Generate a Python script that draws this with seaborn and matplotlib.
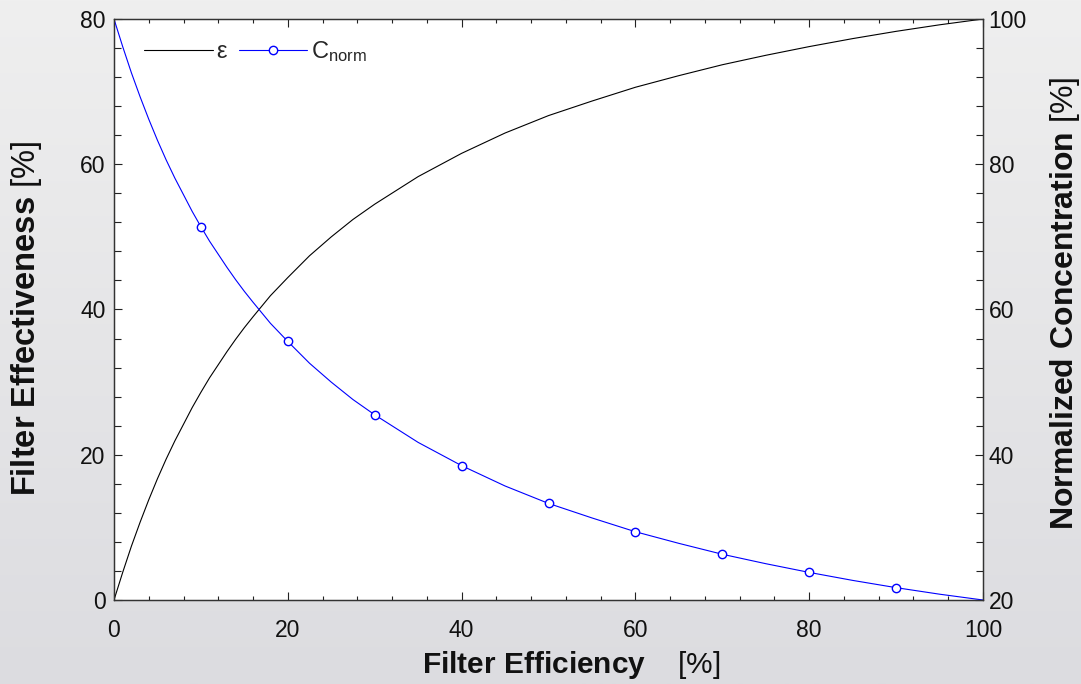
import numpy as np
import pandas as pd
import matplotlib
matplotlib.use("Agg")
import matplotlib.pyplot as plt
import seaborn as sns
from matplotlib.ticker import MultipleLocator
from matplotlib.lines import Line2D
from matplotlib.colors import LinearSegmentedColormap

# ---- data ----
efficiency = [0, 1, 2, 3, 4, 5, 6, 7, 8, 9, 10, 11, 12, 13, 14, 15, 16, 18,
              20, 22.5, 25, 27.5, 30, 35, 40, 45, 50, 55, 60, 65, 70, 75, 80,
              85, 90, 95, 100]
effectiveness = [0, 3.8, 7.4, 10.7, 13.8, 16.7, 19.4, 21.9, 24.2, 26.5, 28.6,
                 30.6, 32.4, 34.2, 35.9, 37.5, 39.0, 41.9, 44.4, 47.4, 50.0,
                 52.4, 54.5, 58.3, 61.5, 64.3, 66.7, 68.7, 70.6, 72.2, 73.7,
                 75.0, 76.2, 77.3, 78.3, 79.2, 80.0]
c_norm = [100, 96.2, 92.6, 89.3, 86.2, 83.3, 80.6, 78.1, 75.8, 73.5, 71.4,
          69.4, 67.6, 65.8, 64.1, 62.5, 61.0, 58.1, 55.6, 52.6, 50.0, 47.6,
          45.5, 41.7, 38.5, 35.7, 33.3, 31.3, 29.4, 27.8, 26.3, 25.0, 23.8,
          22.7, 21.7, 20.8, 20.0]
marker_x = [10, 20, 30, 40, 50, 60, 70, 80, 90]

df = pd.DataFrame({"eff": efficiency, "eps": effectiveness, "c": c_norm})
mark_idx = [efficiency.index(v) for v in marker_x]

sns.set_style("ticks")
plt.rcParams["font.family"] = ["Liberation Sans", "DejaVu Sans"]
plt.rcParams["mathtext.fontset"] = "custom"
plt.rcParams["mathtext.rm"] = "Liberation Sans"
plt.rcParams["mathtext.bf"] = "Liberation Sans:bold"
plt.rcParams["mathtext.it"] = "Liberation Sans:italic"

fig = plt.figure(figsize=(10.81, 6.84), dpi=100)

# background gradient
bg = fig.add_axes([0, 0, 1, 1], zorder=-10)
grad = np.linspace(0, 1, 256).reshape(-1, 1)
cmap = LinearSegmentedColormap.from_list("bg", ["#efefef", "#dcdce0"])
bg.imshow(grad, aspect="auto", cmap=cmap, extent=[0, 1, 0, 1], origin="upper")
bg.set_axis_off()

ax = fig.add_axes([114 / 1081, 1 - 600 / 684, (983 - 114) / 1081, (600 - 19) / 684])
ax.set_facecolor("white")
ax2 = ax.twinx()

sns.lineplot(data=df, x="eff", y="eps", ax=ax, color="black", linewidth=0.8,
             legend=False)
sns.lineplot(data=df, x="eff", y="c", ax=ax2, color="#0000ff", linewidth=0.8,
             marker="o", markersize=6, markerfacecolor="white",
             markeredgecolor="#0000ff", markeredgewidth=1.0,
             markevery=mark_idx, legend=False)

ax.set_xlim(0, 100)
ax.set_ylim(0, 80)
ax2.set_ylim(20, 100)

ax.xaxis.set_major_locator(MultipleLocator(20))
ax.xaxis.set_minor_locator(MultipleLocator(4))
ax.yaxis.set_major_locator(MultipleLocator(20))
ax.yaxis.set_minor_locator(MultipleLocator(4))
ax2.yaxis.set_major_locator(MultipleLocator(20))
ax2.yaxis.set_minor_locator(MultipleLocator(4))

tick_fs = 16.5
ax.tick_params(axis="x", which="both", direction="in", top=True, bottom=True,
               labelsize=tick_fs, pad=14, colors="#222222", labelcolor="#111111")
ax.tick_params(axis="x", which="major", length=5.5, width=0.8)
ax.tick_params(axis="x", which="minor", length=3, width=0.8)
ax.tick_params(axis="y", which="both", direction="in", left=True, right=False,
               labelsize=tick_fs, pad=6, colors="#222222", labelcolor="#111111")
ax.tick_params(axis="y", which="major", length=6, width=0.8)
ax.tick_params(axis="y", which="minor", length=5, width=0.8)
ax2.tick_params(axis="y", which="both", direction="in", right=True, left=False,
                labelsize=tick_fs, pad=4, colors="#222222", labelcolor="#111111")
ax2.tick_params(axis="y", which="major", length=6, width=0.8)
ax2.tick_params(axis="y", which="minor", length=5, width=0.8)

for a in (ax, ax2):
    for s in a.spines.values():
        s.set_linewidth(0.9)
        s.set_color("#333333")

ax.set_xlabel(r"$\mathbf{Filter\ Efficiency}$    [%]", fontsize=21.5,
              labelpad=5, color="#111111")
ax.xaxis.label.set_x(0.526)
ax.set_ylabel(r"$\mathbf{Filter\ Effectiveness}$ [%]", fontsize=23.5,
              labelpad=26, color="#111111")
ax.yaxis.label.set_y(0.485)
ax2.set_ylabel(r"$\mathbf{Normalized\ Concentration}$ [%]", fontsize=23,
               labelpad=15, color="#111111")
ax2.yaxis.label.set_y(0.51)

handles = [
    Line2D([], [], color="black", linewidth=0.8),
    Line2D([], [], color="#0000ff", linewidth=0.8, marker="o", markersize=6,
           markerfacecolor="white", markeredgecolor="#0000ff"),
]
labels = ["ε", r"C$_{\mathrm{norm}}$"]
ax2.legend(handles, labels, loc="upper left", bbox_to_anchor=(0.024, 0.982),
           ncol=2, frameon=False, fontsize=17, handlelength=2.9,
           handletextpad=0.15, columnspacing=0.5, borderaxespad=0)

fig.savefig("out.png", dpi=100)
